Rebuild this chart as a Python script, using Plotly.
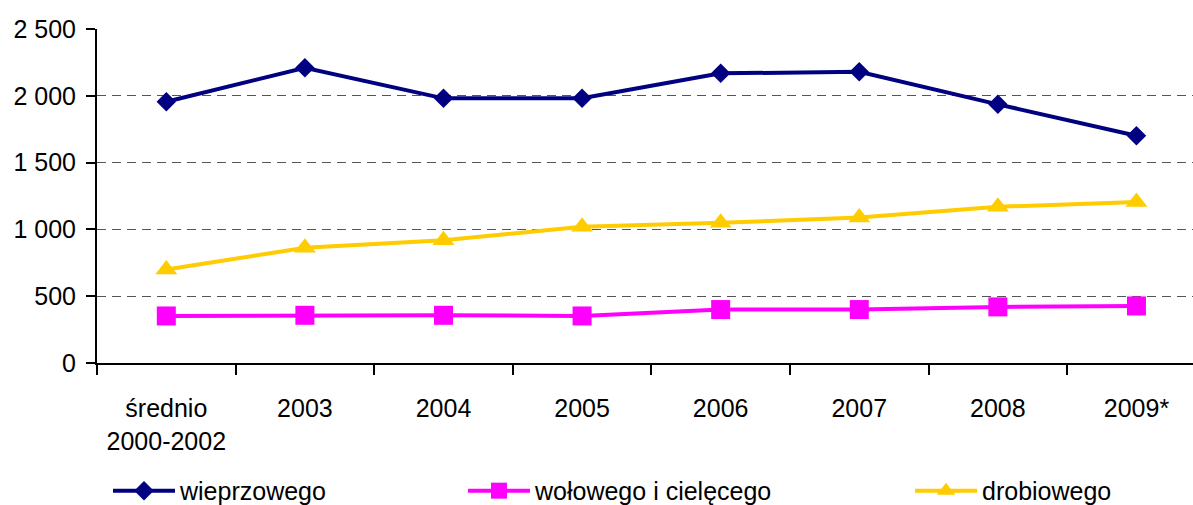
import plotly.graph_objects as go

categories = ["średnio<br>2000-2002", "2003", "2004", "2005", "2006", "2007", "2008", "2009*"]
wieprzowego = [1955, 2210, 1981, 1981, 2168, 2180, 1936, 1701]
wolowego = [352, 357, 357, 352, 400, 400, 420, 427]
drobiowego = [700, 862, 919, 1019, 1049, 1089, 1169, 1206]
y_ticks = [0, 500, 1000, 1500, 2000, 2500]
y_ticktext = ["0", "500", "1 000", "1 500", "2 000", "2 500"]

FONT = "Liberation Sans, Arial, sans-serif"
FS = 25

fig = go.Figure()
fig.add_trace(go.Scatter(
    x=categories, y=wieprzowego, name="wieprzowego", mode="lines+markers",
    line=dict(color="#000080", width=4),
    marker=dict(symbol="diamond", size=15, color="#000080"),
    legend="legend"))
fig.add_trace(go.Scatter(
    x=categories, y=wolowego, name="wołowego i cielęcego", mode="lines+markers",
    line=dict(color="#FF00FF", width=4),
    marker=dict(symbol="square", size=19, color="#FF00FF"),
    legend="legend2"))
fig.add_trace(go.Scatter(
    x=categories, y=drobiowego, name="drobiowego", mode="lines+markers",
    line=dict(color="#FFCC00", width=4),
    marker=dict(symbol="triangle-up", size=19, color="#FFCC00"),
    legend="legend3"))

leg_common = dict(orientation="h", yanchor="middle", xanchor="left", y=-0.383,
                  font=dict(family=FONT, size=FS, color="#000"),
                  bgcolor="rgba(0,0,0,0)", itemwidth=62)

fig.update_layout(
    width=1193, height=505,
    showlegend=True,
    margin=dict(l=97, r=0, t=29, b=142, autoexpand=False),
    paper_bgcolor="white", plot_bgcolor="white",
    font=dict(family=FONT, size=FS, color="#000"),
    xaxis=dict(
        type="category", range=[-0.5, 7.408], automargin=False,
        showline=True, linecolor="#000", linewidth=2,
        ticks="outside", ticklen=10, tickwidth=2, tickcolor="#000",
        tickson="boundaries", showgrid=False, ticklabelstandoff=22,
        tickfont=dict(family=FONT, size=FS, color="#000"),
    ),
    yaxis=dict(
        range=[0, 2500], tickvals=y_ticks, ticktext=y_ticktext, automargin=False,
        showline=True, linecolor="#000", linewidth=2,
        ticks="outside", ticklen=9, tickwidth=2, tickcolor="#000",
        showgrid=True, gridcolor="#555", gridwidth=1.2, griddash="9px,6px",
        zeroline=False, ticklabelstandoff=5,
        tickfont=dict(family=FONT, size=FS, color="#000"),
    ),
    legend=dict(x=(108 - 97) / 1096, **leg_common),
    legend2=dict(x=(463 - 97) / 1096, **leg_common),
    legend3=dict(x=(910 - 97) / 1096, **leg_common),
)

fig.write_html(
    "out.html",
    config={"displayModeBar": False},
    post_script="document.body.style.margin='0';document.body.style.overflow='hidden';",
)
